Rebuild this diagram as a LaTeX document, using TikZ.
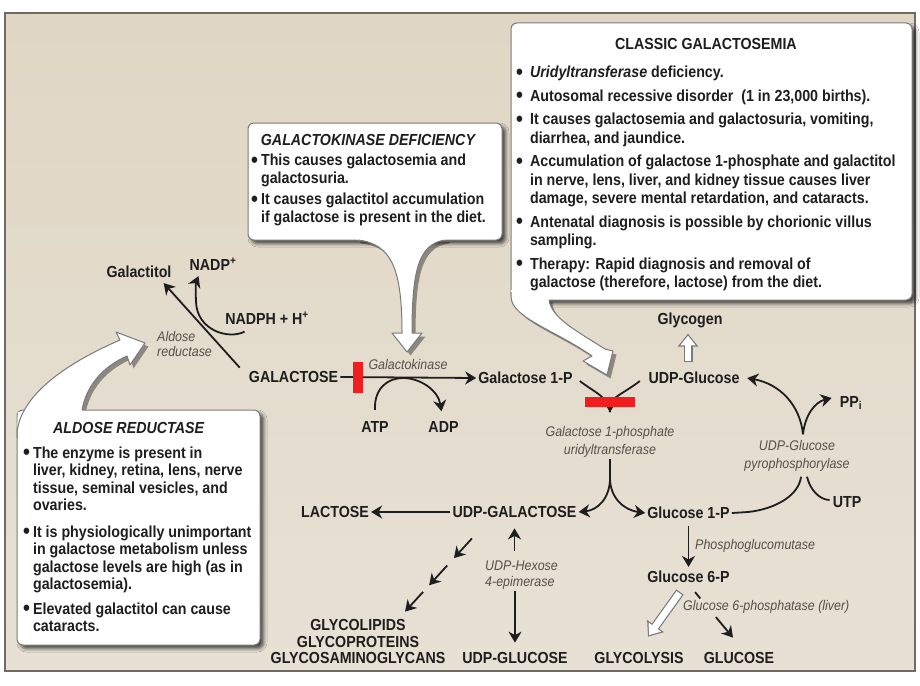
\documentclass[tikz,border=0pt]{standalone}
\usepackage{fontspec}
\setmainfont{Liberation Sans}[FakeStretch=0.89]
\usetikzlibrary{arrows.meta,calc,shadows.blur}
\definecolor{galInk}{HTML}{1E1E1E}
\definecolor{galEnz}{HTML}{55504A}
\definecolor{galEdge}{HTML}{7A7A7A}
\definecolor{galRed}{HTML}{F01E1E}
\definecolor{galTop}{HTML}{E0D6C4}
\definecolor{galBot}{HTML}{E7E1D5}
\definecolor{galFrame}{HTML}{6E6A64}
% big bullet for the callout lists
\newcommand{\bigbul}{\raisebox{-1.5pt}{\fontsize{22}{22}\selectfont\textbullet}}
% callout tails (x right, y down, in px)
\newcommand{\gktailfill}{(356,238.5) -- (447,238.5) -- (445,240) .. controls (418,244) and (412,272) .. (412,333)
  -- (422,333) -- (407,352) -- (392,333) -- (402,333) .. controls (402,270) and (392,244) .. (358,240) -- cycle}
\newcommand{\gktailedge}{(358,240) .. controls (392,244) and (402,270) .. (402,333) -- (392,333) -- (407,352)
  -- (422,333) -- (412,333) .. controls (412,272) and (418,244) .. (445,240)}
\newcommand{\cgtailfill}{(511,290) -- (511,297) .. controls (512,318) and (555,330) .. (592,356) -- (583,361)
  -- (607,375) -- (613,351) -- (605,349) .. controls (575,330) and (552,318) .. (549,301) -- (549,298.5)
  -- (520,298.5) -- (520,290) -- cycle}
\newcommand{\cgtailedge}{(511,292) -- (511,297) .. controls (512,318) and (555,330) .. (592,356) -- (583,361)
  -- (607,375) -- (613,351) -- (605,349) .. controls (575,330) and (552,318) .. (549,300)}
\newcommand{\aldtailfill}{(17,433) .. controls (20,398) and (60,366) .. (120,340) -- (116,332) -- (145,343)
  -- (130,365) -- (127,356) .. controls (100,368) and (86,388) .. (82,410) -- (82,412) -- (18,412) -- cycle}
\newcommand{\aldtailedge}{(17,438) -- (17,433) .. controls (20,398) and (60,366) .. (120,340) -- (116,332)
  -- (145,343) -- (130,365) -- (127,356) .. controls (100,368) and (86,388) .. (82,410)}
\tikzset{
  >={Stealth[length=11pt, width=13pt, inset=3.5pt]},
  met/.style={font=\fontsize{16}{16.5}\selectfont\bfseries, text=galInk, inner sep=2pt, align=center},
  enz/.style={font=\fontsize{14}{17}\selectfont\itshape, text=galEnz, inner sep=1pt, align=center},
  callout/.style={draw=galEdge, line width=1pt, fill=white, rounded corners=6pt, inner sep=0pt,
              blur shadow={shadow xshift=3.5pt, shadow yshift=-3.5pt, shadow blur radius=3.5pt, shadow opacity=70}},
  boxtxt/.style={anchor=north west, inner sep=0pt, text=galInk},
  tailshade/.style={fill=black, opacity=0.38},
  tailedge/.style={draw=galEdge, line width=1pt, line join=round},
  flow/.style={->, draw=galInk, line width=1.8pt},
  plain/.style={draw=galInk, line width=1.8pt},
  block/.style={fill=galRed, inner sep=0pt},
  hollowout/.style={draw=galEdge, line width=9pt, -{Triangle[length=13pt,width=20pt]}},
  hollowin/.style={draw=white, line width=6.6pt, shorten <=1.2pt, shorten >=2pt,
              -{Triangle[length=9.8pt,width=15pt]}},
}

\begin{document}
\begin{tikzpicture}[x=1pt, y=-1pt]
  \useasboundingbox (0,0) rectangle (920,685);
  \fill[white] (0,0) rectangle (920,685);
  % panel
  \shade[top color=galTop, bottom color=galBot] (5,13) rectangle (915,671);
  \draw[galFrame, line width=2pt] (5,13) rectangle (915,671);

  % callouts
  \fill[tailshade, shift={(3.5,3.5)}] \gktailfill;
  \fill[tailshade, shift={(3.5,3.5)}] \cgtailfill;
  \fill[tailshade, shift={(3.5,3.5)}] \aldtailfill;
  \node[callout, minimum width=254pt, minimum height=117pt] (gkbox) at (375,181.5) {};
  \node[callout, minimum width=401pt, minimum height=277pt] (cgbox) at (711.5,161.5) {};
  \node[callout, minimum width=243pt, minimum height=235pt] (aldbox) at (138.5,527.5) {};
  \fill[white] \gktailfill;
  \fill[white] \cgtailfill;
  \fill[white] \aldtailfill;
  \draw[tailedge] \gktailedge;
  \draw[tailedge] \cgtailedge;
  \draw[tailedge] \aldtailedge;

  \node[boxtxt, font=\fontsize{16}{18}\selectfont\bfseries] (gktxt) at (251,133) {%
    \begin{tabular}{@{}l@{\hspace{3pt}}l@{}}
      \multicolumn{2}{@{}c@{}}{\textit{GALACTOKINASE DEFICIENCY}}\\[2pt]
      \bigbul & This causes galactosemia and\\
              & galactosuria.\\[3pt]
      \bigbul & It causes galactitol accumulation\\
              & if galactose is present in the diet.
    \end{tabular}};
  \node[boxtxt, font=\fontsize{16}{18.5}\selectfont\bfseries] (cgtxt) at (516,36) {%
    \begin{tabular}{@{}l@{\hspace{7pt}}l@{}}
      \multicolumn{2}{@{}c@{}}{CLASSIC GALACTOSEMIA}\\[10pt]
      \bigbul & \textit{Uridyltransferase} deficiency.\\[5pt]
      \bigbul & Autosomal recessive disorder\ \ (1 in 23,000 births).\\[5pt]
      \bigbul & It causes galactosemia and galactosuria, vomiting,\\
              & diarrhea, and jaundice.\\[5pt]
      \bigbul & Accumulation of galactose 1-phosphate and galactitol\\
              & in nerve, lens, liver, and kidney tissue causes liver\\
              & damage, severe mental retardation, and cataracts.\\[5pt]
      \bigbul & Antenatal diagnosis is possible by chorionic villus\\
              & sampling.\\[5pt]
      \bigbul & Therapy: Rapid diagnosis and removal of\\
              & galactose (therefore, lactose) from the diet.
    \end{tabular}};
  \node[boxtxt, font=\fontsize{16}{17.5}\selectfont\bfseries] (aldtxt) at (23,421.5) {%
    \begin{tabular}{@{}l@{\hspace{3pt}}l@{}}
      \multicolumn{2}{@{}l@{}}{\hspace{30pt}\textit{ALDOSE REDUCTASE}}\\[7pt]
      \bigbul & The enzyme is present in\\
              & liver, kidney, retina, lens, nerve\\
              & tissue, seminal vesicles, and\\
              & ovaries.\\[9pt]
      \bigbul & It is physiologically unimportant\\
              & in galactose metabolism unless\\
              & galactose levels are high (as in\\
              & galactosemia).\\[7pt]
      \bigbul & Elevated galactitol can cause\\
              & cataracts.
    \end{tabular}};

  % metabolites
  \node[met] (galactitol) at (139,272) {Galactitol};
  \node[met] (nadp) at (213,264) {NADP\textsuperscript{+}};
  \node[met] (nadph) at (267,318.5) {NADPH + H\textsuperscript{+}};
  \node[met] (galactose) at (293.5,377) {GALACTOSE};
  \node[met] (gal1p) at (525.5,378) {Galactose 1-P};
  \node[met] (atp) at (375,427) {ATP};
  \node[met] (adp) at (443.5,427) {ADP};
  \node[met] (glycogen) at (690,320.5) {Glycogen};
  \node[met] (udpglc) at (694,378) {UDP-Glucose};
  \node[met] (ppi) at (851,403) {PP\textsubscript{i}};
  \node[met] (utp) at (847,502) {UTP};
  \node[met] (lactose) at (335,512) {LACTOSE};
  \node[met] (udpgal) at (514.5,512) {UDP-GALACTOSE};
  \node[met] (glc1p) at (688.5,513) {Glucose 1-P};
  \node[met] (glc6p) at (688.5,577) {Glucose 6-P};
  \node[met] (glycolip) at (358,641.5) {GLYCOLIPIDS\\GLYCOPROTEINS\\GLYCOSAMINOGLYCANS};
  \node[met] (udpglucose) at (515,658) {UDP-GLUCOSE};
  \node[met] (glycolysis) at (639,658) {GLYCOLYSIS};
  \node[met] (glucose) at (739,658) {GLUCOSE};

  % enzymes
  \node[enz, anchor=west, align=left] (aldred) at (156,344) {Aldose\\[-2pt]reductase};
  \node[enz] (galk) at (408,364) {Galactokinase};
  \node[enz] (galt) at (610,442) {Galactose 1-phosphate\\[1pt]uridyltransferase};
  \node[enz] (ugp) at (797,456) {UDP-Glucose\\[1pt]pyrophosphorylase};
  \node[enz, anchor=west, align=left] (epim) at (484,575) {UDP-Hexose\\[-1pt]4-epimerase};
  \node[enz, anchor=west] (pgm) at (694,546) {Phosphoglucomutase};
  \node[enz, anchor=west] (g6pase) at (682,607) {Glucose 6-phosphatase (liver)};

  % aldose reductase
  \draw[flow] ([shift={(-7,-1.5)}]galactose.north west) -- ([shift={(-10,3)}]galactitol.south east);
  \draw[flow] ([shift={(21.5,4.5)}]nadph.south west) .. controls (228,340) and (197,330) .. (196,302)
    .. controls (195.5,290) and (196,282) .. ([shift={(11,3.5)}]nadp.south west);
  % galactokinase
  \draw[flow] (galactose.east) -- (gal1p.west);
  \draw[flow] ([shift={(0,-9.5)}]atp.north) .. controls (374,388) and (388,378) .. (403,378)
    .. controls (420,378) and (438,390) .. ([shift={(-2,-8)}]adp.north);
  % uridyltransferase
  \draw[plain] ([shift={(5,3)}]gal1p.east) .. controls (594,392) and (610,398) .. ([shift={(0,-13)}]galt.north);
  \draw[flow] ([shift={(-6.5,3)}]udpglc.west) .. controls (626,392) and (610,398) .. ([shift={(0,-13)}]galt.north);
  \coordinate (split) at (610,478);
  \draw[plain] (galt.south) -- (split);
  \draw[flow] (split) .. controls (610,498) and (598,510) .. (udpgal.east);
  \draw[flow] (split) .. controls (610,498) and (624,510) .. (glc1p.west);
  % glycogen
  \draw[hollowout] ([shift={(-6,-8)}]udpglc.north) -- ([shift={(-2,3.5)}]glycogen.south);
  \draw[hollowin] ([shift={(-6,-8)}]udpglc.north) -- ([shift={(-2,3.5)}]glycogen.south);
  % pyrophosphorylase
  \draw[flow] ([shift={(6,-5)}]ugp.north) .. controls (800,405) and (780,384) .. ([shift={(5.5,0)}]udpglc.east);
  \draw[flow] ([shift={(6,-5)}]ugp.north) .. controls (805,415) and (815,402) .. ([shift={(-6,-5)}]ppi.west);
  \draw[plain] (glc1p.east) -- (748,512) .. controls (776,509) and (799,495) .. ([shift={(4,4)}]ugp.south);
  \draw[plain] ([shift={(10,4)}]ugp.south) .. controls (810,490) and (820,500) .. ([shift={(-1,-2)}]utp.west);
  % UDP-galactose
  \draw[flow] (udpgal.west) -- (lactose.east);
  \coordinate (gls) at ([shift={(-42.5,18.5)}]udpgal.south);
  \coordinate (gle) at ([shift={(47,-5.5)}]glycolip.north);
  \foreach \a/\b in {0/0.27,0.37/0.64,0.73/1}{
    \draw[flow] ($(gls)!\a!(gle)$) -- ($(gls)!\b!(gle)$);
  }
  \draw[flow] ($(epim.north -| udpgal.south)+(0,-9)$) -- ($(udpgal.south)+(0,8.5)$);
  \draw[flow] ($(epim.south -| udpglucose.north)+(0,0.5)$) -- ($(udpglucose.north)+(0,-7.5)$);
  % glucose 1-P onwards
  \draw[flow, shorten <=4.5pt, shorten >=2pt] (glc1p.south) -- (glc6p.north);
  \draw[hollowout] ([shift={(-8.5,7)}]glc6p.south) -- ([shift={(9,-13.5)}]glycolysis.north);
  \draw[hollowin] ([shift={(-8.5,7)}]glc6p.south) -- ([shift={(9,-13.5)}]glycolysis.north);
  \coordinate (g6s) at ([shift={(6.5,7)}]glc6p.south);
  \coordinate (g6e) at ([shift={(-6,-12.5)}]glucose.north);
  \draw[plain] (g6s) -- ($(g6s)!0.14!(g6e)$);
  \draw[flow] ($(g6s)!0.55!(g6e)$) -- (g6e);

  % blocks
  \node[block, minimum width=10pt, minimum height=31pt] (gkblock) at (358,377) {};
  \node[block, minimum width=50pt, minimum height=10pt] (gtblock) at (610,402) {};
\end{tikzpicture}
\end{document}
